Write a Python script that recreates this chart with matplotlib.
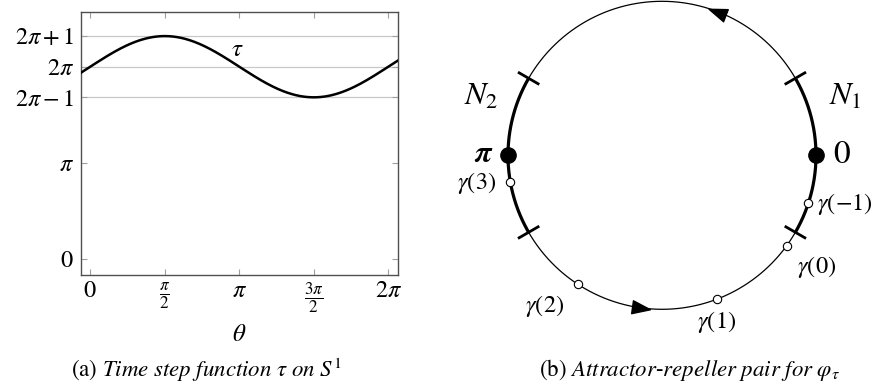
import numpy as np
import matplotlib
matplotlib.use("Agg")
import matplotlib.pyplot as plt
from matplotlib.markers import MarkerStyle
from matplotlib.path import Path
from matplotlib.transforms import Affine2D

plt.rcParams['font.family'] = ['STIXGeneral', 'DejaVu Serif']
plt.rcParams['mathtext.fontset'] = 'stix'

# ---- Panel (a) data: tau(theta) = center + amplitude * sin(theta)
tau_center = 2 * np.pi
tau_amplitude = 1.0
x_ticks = [0, np.pi / 2, np.pi, 3 * np.pi / 2, 2 * np.pi]
x_ticklabels = [r'$0$', r'$\frac{\pi}{2}$', r'$\pi$', r'$\frac{3\pi}{2}$', r'$2\pi$']
y_ticks = [0, np.pi, 2 * np.pi - 1, 2 * np.pi, 2 * np.pi + 1]
y_ticklabels = [r'$0$', r'$\pi$', r'$2\pi-1$', r'$2\pi$', r'$2\pi+1$']
grid_levels = [2 * np.pi - 1, 2 * np.pi, 2 * np.pi + 1]

# ---- Panel (b) data (angles in degrees on the circle)
N1_arc = (-30, 30)
N2_arc = (150, 210)
fixed_points = [0, 180]
fixed_labels = [r'$0$', r'$\boldsymbol{\pi}$']
orbit_angles = [-18, -36, -69, -123, 190]
orbit_labels = [r'$\gamma(-1)$', r'$\gamma(0)$', r'$\gamma(1)$', r'$\gamma(2)$', r'$\gamma(3)$']
arrow_angles = [69, -98]

W, H = 880, 392
fig = plt.figure(figsize=(W / 100, H / 100), dpi=100)

# ================= Panel (a) =================
ax = fig.add_axes([81 / W, 1 - 275 / H, (398 - 81) / W, (275 - 12) / H])
xlim = (-0.196, 2 * np.pi + 0.204)
theta = np.linspace(xlim[0], xlim[1], 400)
tau = tau_center + tau_amplitude * np.sin(theta)
for g in grid_levels:
    ax.axhline(g, color='#c8c8c8', lw=0.9, zorder=1)
ax.plot(theta, tau, color='black', lw=1.8, zorder=3)
ax.set_xlim(*xlim)
ax.set_ylim(-0.52, 8.07)
ax.set_xticks(x_ticks)
ax.set_xticklabels(x_ticklabels)
ax.set_yticks(y_ticks)
ax.set_yticklabels(y_ticklabels)
ax.tick_params(direction='in', length=4.3, width=0.8, color='#a0a0a0',
               top=True, right=True, labelsize=17.5, pad=4)
ax.tick_params(axis='y', pad=5)
for s in ax.spines.values():
    s.set_color('#505050')
    s.set_linewidth(1.0)
ax.text(3.11, 6.83, r'$\tau$', fontsize=18, ha='center', va='center')
ax.set_xlabel(r'$\theta$', fontsize=18, labelpad=5)

fig.text(206 / W, 1 - 370 / H, r'(a) $\mathit{Time\ step\ function}\ \tau\ \mathit{on}\ S^1$',
         fontsize=16.5, ha='center', va='center')

# ================= Panel (b) =================
R = 154.0
cx, cy = 662.0, 155.3
half = 200.0
bx = fig.add_axes([(cx - half) / W, 1 - (cy + half) / H, 2 * half / W, 2 * half / H])
lim = half / R
bx.set_xlim(-lim, lim)
bx.set_ylim(-lim, lim)
bx.axis('off')

t = np.radians(np.linspace(0, 360, 721))
bx.plot(np.cos(t), np.sin(t), color='black', lw=0.9, clip_on=False)
for a0, a1 in (N1_arc, N2_arc):
    ta = np.radians(np.linspace(a0, a1, 200))
    bx.plot(np.cos(ta), np.sin(ta), color='black', lw=2.3, clip_on=False, solid_capstyle='butt')
    for a in (a0, a1):
        r = np.radians(a)
        bx.plot([0.92 * np.cos(r), 1.08 * np.cos(r)], [0.92 * np.sin(r), 1.08 * np.sin(r)],
                color='black', lw=2.0, clip_on=False, solid_capstyle='butt')

# arrows (counterclockwise flow)
tri = Path([(1, 0), (-1, 0.72), (-1, -0.72), (1, 0)],
           [Path.MOVETO, Path.LINETO, Path.LINETO, Path.CLOSEPOLY])
for a in arrow_angles:
    r = np.radians(a)
    m = MarkerStyle(tri, transform=Affine2D().rotate_deg(a + 90))
    bx.plot([np.cos(r)], [np.sin(r)], marker=m, markersize=13, color='black',
            linestyle='none', clip_on=False, zorder=5)

# fixed points
for a in fixed_points:
    r = np.radians(a)
    bx.plot([np.cos(r)], [np.sin(r)], 'o', color='black', markersize=11, clip_on=False, zorder=6)
bx.text((842 - cx) / R, 0.0, fixed_labels[0], fontsize=24, ha='center', va='center')
bx.text((484 - cx) / R, 0.0, fixed_labels[1], fontsize=22, ha='center', va='center')

# N labels
bx.text((845 - cx) / R, (cy - 97) / R, r'$N_1$', fontsize=23, ha='center', va='center')
bx.text((481 - cx) / R, (cy - 97) / R, r'$N_2$', fontsize=23, ha='center', va='center')

# orbit points
for a in orbit_angles:
    r = np.radians(a)
    bx.plot([np.cos(r)], [np.sin(r)], 'o', markerfacecolor='white', markeredgecolor='black',
            markeredgewidth=0.8, markersize=6, clip_on=False, zorder=6)

label_px = [(817, 204, 'left'), (817, 267, 'center'), (717, 322, 'center'),
            (545, 306, 'center'), (496, 183, 'right')]
for (px, py, ha), lab in zip(label_px, orbit_labels):
    bx.text((px - cx) / R, (cy - py) / R, lab, fontsize=17.5, ha=ha, va='center')

fig.text(689 / W, 1 - 370 / H,
         r'(b) $\mathit{Attractor}$-$\mathit{repeller\ pair\ for}\ \varphi_\tau$',
         fontsize=16.5, ha='center', va='center')

fig.savefig('out.png', dpi=100)
